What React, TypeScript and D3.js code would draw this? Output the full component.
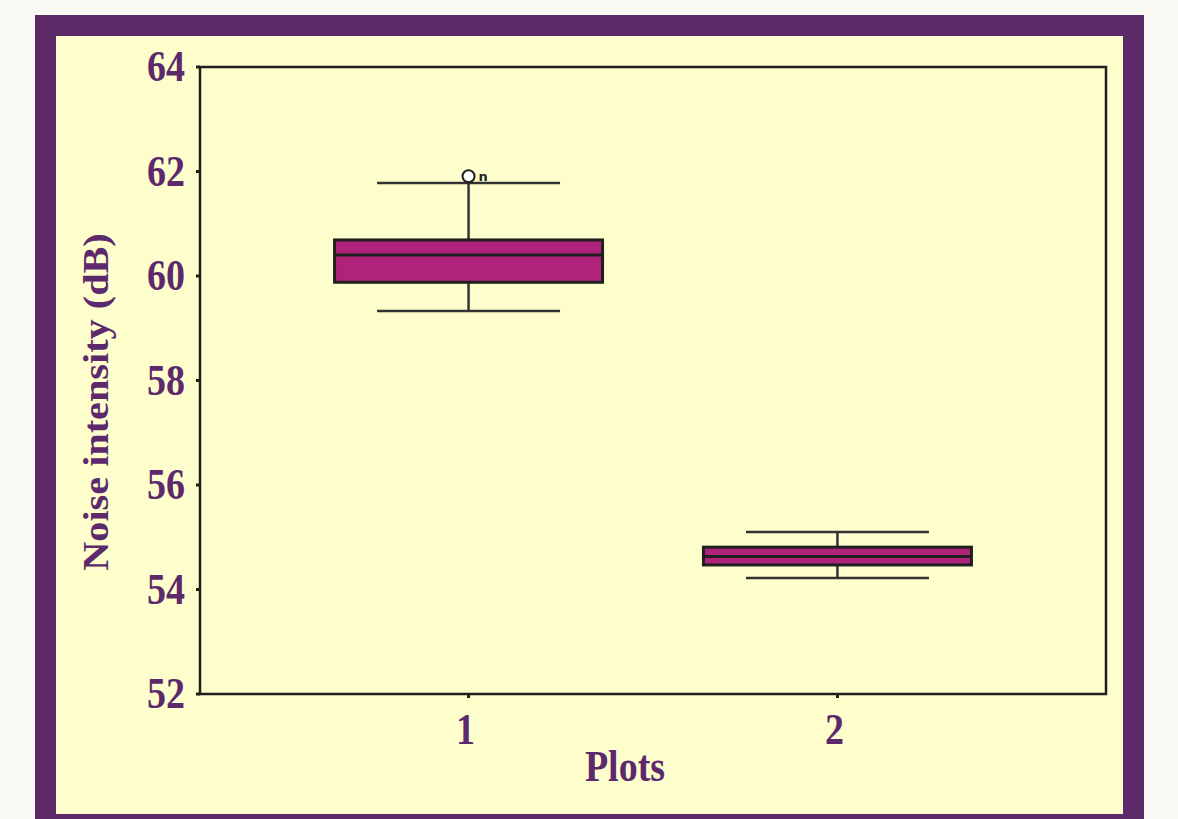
import React from "react";
import * as d3 from "d3";

const categories = ["1", "2"];
const whiskerLow = [59.33, 54.22];
const q1 = [59.88, 54.47];
const median = [60.4, 54.63];
const q3 = [60.69, 54.81];
const whiskerHigh = [61.78, 55.1];
const outlierCat = ["1"];
const outlierVal = [61.91];
const outlierLabel = ["n"];
const yTicks = [52, 54, 56, 58, 60, 62, 64];

const W = 1178;
const H = 819;
const purple = "#5D2A69";
const textPurple = "#5C2A6C";
const yellow = "#FEFECD";
const boxFill = "#B0237A";
const stroke = "#1f1f1f";

export default function App() {
  const left = 200, right = 1106, top = 67, bottom = 694;
  const y = d3.scaleLinear().domain([52, 64]).range([bottom, top]);
  const x = d3.scalePoint<string>().domain(categories).range([left, right]).padding(0.728);
  const boxW = 268;
  const capW = 183;
  const font = "'Liberation Serif', 'Times New Roman', serif";
  const sy = 1.15;

  return (
    <svg width={W} height={H} style={{ position: "absolute", left: 0, top: 0 }}>
      <rect x={0} y={0} width={W} height={H} fill="#FAFAF5" />
      <rect x={35} y={15} width={1109} height={820} fill={purple} />
      <rect x={56} y={36} width={1067} height={778} fill={yellow} />
      {/* plot frame */}
      <rect x={left} y={top} width={right - left} height={bottom - top} fill="none" stroke={stroke} strokeWidth={2.5} />
      {/* y ticks */}
      {yTicks.map((t) => (
        <g key={t}>
          <line x1={left - 4} x2={left} y1={y(t)} y2={y(t)} stroke={stroke} strokeWidth={3} />
          <text
            transform={`translate(185, ${y(t) + 14}) scale(1, ${sy})`}
            textAnchor="end"
            fontFamily={font}
            fontWeight="bold"
            fontSize={38}
            fill={textPurple}
          >
            {t}
          </text>
        </g>
      ))}
      {/* x ticks */}
      {categories.map((c) => (
        <g key={c}>
          <line x1={x(c)!} x2={x(c)!} y1={bottom} y2={bottom + 4} stroke={stroke} strokeWidth={3} />
          <text
            transform={`translate(${x(c)! - 3}, 744) scale(1, ${sy})`}
            textAnchor="middle"
            fontFamily={font}
            fontWeight="bold"
            fontSize={38}
            fill={textPurple}
          >
            {c}
          </text>
        </g>
      ))}
      {/* boxes */}
      {categories.map((c, i) => {
        const cx = x(c)!;
        return (
          <g key={"b" + c}>
            <line x1={cx} x2={cx} y1={y(whiskerHigh[i])} y2={y(q3[i])} stroke="#333" strokeWidth={2.5} />
            <line x1={cx} x2={cx} y1={y(q1[i])} y2={y(whiskerLow[i])} stroke="#333" strokeWidth={2.5} />
            <line x1={cx - capW / 2} x2={cx + capW / 2} y1={y(whiskerHigh[i])} y2={y(whiskerHigh[i])} stroke="#333" strokeWidth={2.5} />
            <line x1={cx - capW / 2} x2={cx + capW / 2} y1={y(whiskerLow[i])} y2={y(whiskerLow[i])} stroke="#333" strokeWidth={2.5} />
            <rect
              x={cx - boxW / 2}
              y={y(q3[i])}
              width={boxW}
              height={y(q1[i]) - y(q3[i])}
              fill={boxFill}
              stroke={stroke}
              strokeWidth={3}
            />
            <line x1={cx - boxW / 2} x2={cx + boxW / 2} y1={y(median[i])} y2={y(median[i])} stroke={stroke} strokeWidth={3} />
          </g>
        );
      })}
      {/* outliers */}
      {outlierCat.map((c, i) => (
        <g key={"o" + i}>
          <circle cx={x(c)!} cy={y(outlierVal[i])} r={6} fill="#ffffff" stroke={stroke} strokeWidth={2} />
          <text x={x(c)! + 10} y={y(outlierVal[i]) + 5} fontFamily="'DejaVu Sans', sans-serif" fontSize={13} fontWeight="bold" fill={stroke}>
            {outlierLabel[i]}
          </text>
        </g>
      ))}
      {/* axis titles */}
      <text
        transform={`translate(625, 781) scale(1, ${sy})`}
        textAnchor="middle"
        fontFamily={font}
        fontWeight="bold"
        fontSize={38}
        fill={textPurple}
      >
        Plots
      </text>
      <text
        transform={`translate(108, 402) rotate(-90) scale(${sy}, 1)`}
        textAnchor="middle"
        fontFamily={font}
        fontWeight="bold"
        fontSize={35}
        fill={textPurple}
      >
        Noise intensity (dB)
      </text>
    </svg>
  );
}
